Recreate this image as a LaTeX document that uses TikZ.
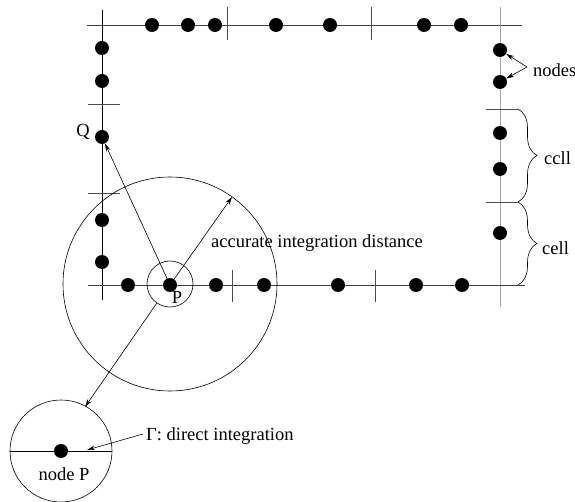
\documentclass[tikz,border=0pt]{standalone}
\usepackage{fontspec}
\setmainfont{Liberation Serif}
\usetikzlibrary{arrows.meta,decorations.pathreplacing}
\begin{document}
\begin{tikzpicture}[x=1pt,y=-1pt,
  dot/.style={circle,fill=black,inner sep=0pt,minimum size=14pt},
  lbl/.style={font=\fontsize{18.5}{22}\selectfont,inner sep=0pt},
  grid/.style={line width=0.8pt,black!75},
  tick/.style={line width=0.7pt,black!70},
  arr/.style={line width=0.6pt,-{Stealth[length=8pt,width=4.5pt]}},
  ring/.style={circle,draw,line width=0.6pt,inner sep=0pt}]
\useasboundingbox (0,0) rectangle (575,502);
% frame lines
\draw[grid] (87,25) -- (522,25);
\draw[line width=0.8pt,black] (102,10) -- (102,300);
\draw[line width=0.8pt,black!35] (500,7) -- (500,307);
\draw[grid] (88,285) -- (525,285);
% ticks
\foreach \x in {227,371} \draw[tick] (\x,7) -- (\x,40);
\foreach \y in {104,193} \draw[tick] (88,\y) -- (120,\y);
\foreach \y in {109,202} \draw[tick] (486,\y) -- (518,\y);
\foreach \x in {232,375} \draw[tick] (\x,270) -- (\x,302);
% dots
\foreach \x [count=\i] in {152,188,215,276,330,424,461} \node[dot] (t\i) at (\x,25) {};
\foreach \y [count=\i] in {48,81,137,220,262} \node[dot] (l\i) at (102,\y) {};
\foreach \y [count=\i] in {50,82,133,169,233} \node[dot] (r\i) at (500,\y) {};
\foreach \x [count=\i] in {128,170,216,264,338,416,462} \node[dot] (b\i) at (\x,285) {};
% circles
\node[ring,minimum size=46pt] (pc) at (170,284) {};
\node[ring,minimum size=214pt] (bigc) at (170,284) {};
\node[ring,minimum size=102pt] (smallc) at (61,451) {};
\draw[line width=0.8pt] (smallc.west) -- (smallc.east);
\node[dot] (np) at (61,451) {};
% labels
\node[lbl] (Q) at (83,132) {Q};
\node[lbl] (Plbl) at (177,297) {P};
\node[lbl,anchor=west] (acc) at (211,243) {accurate integration distance};
\node[lbl,anchor=west] (nodes) at (533,70) {nodes};
\node[lbl,anchor=west] (cell1) at (544,158) {ccll};
\node[lbl,anchor=west] (cell2) at (542,248) {cell};
\node[lbl,anchor=west] (gam) at (146,436) {Γ: direct integration};
\node[lbl] (nodeP) at (64,474) {node P};
% arrows
\coordinate (accend) at (232,197);
\coordinate (gend) at (85,407);
\coordinate (nodesfork) at (527,67);
\coordinate (gline) at (87,450);
\draw[arr] (b2.center) -- (l3);
\draw[arr] (b2.center) -- (accend);
\draw[arr] (pc) -- (gend);
\draw[arr] (nodesfork) -- (r1);
\draw[arr] (nodesfork) -- (r2);
\draw[arr] (143,434) -- (gline);
% braces
\draw[line width=0.6pt,decorate,decoration={brace,amplitude=19pt}] (518,109) -- (518,202);
\draw[line width=0.6pt,decorate,decoration={brace,amplitude=19pt}] (518,202) -- (518,285);
\end{tikzpicture}
\end{document}
